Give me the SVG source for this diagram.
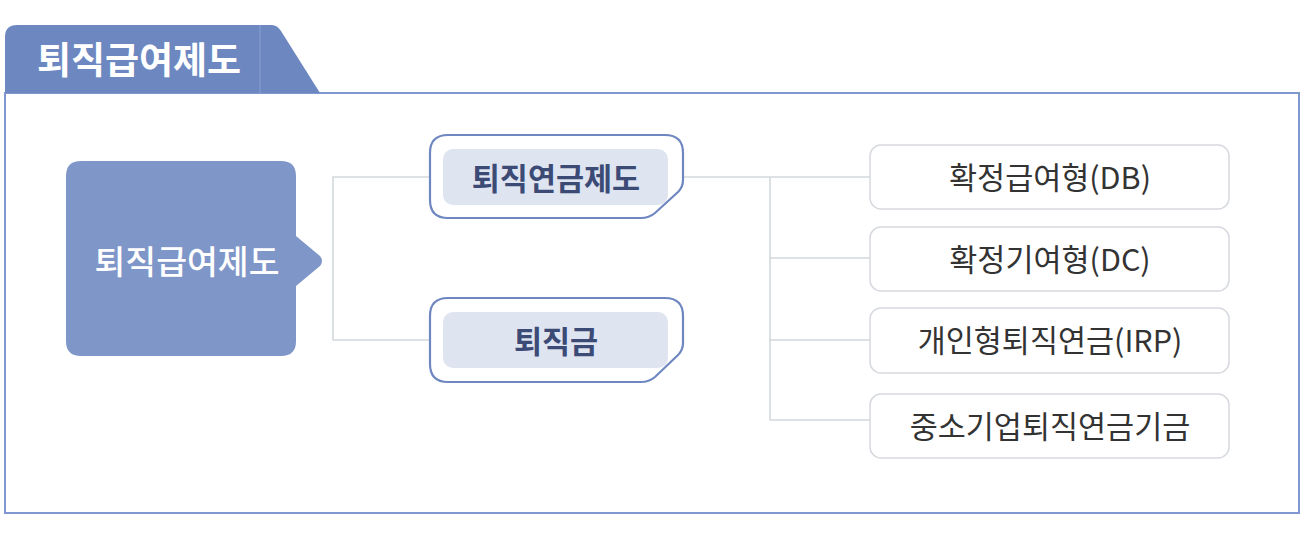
<svg xmlns="http://www.w3.org/2000/svg" width="1306" height="536" viewBox="0 0 1306 536">
<style>
.frame{fill:#fff;stroke:#8197cf;stroke-width:2}
.tab{fill:#6d87c1}
.main{fill:#7f96c8}
.mid{fill:#fff;stroke:#6f87c0;stroke-width:2.2}
.inner{fill:#dfe4f1}
.leaf{fill:#fff;stroke:#d6d9de;stroke-width:1.5}
.conn{fill:none;stroke:#d3d9dc;stroke-width:1.6}
text{font-family:"Noto Sans CJK KR","Noto Sans",sans-serif;text-anchor:middle;dominant-baseline:central}
.t-title{fill:#fff;font-size:37px;font-weight:bold}
.t-main{fill:#fff;font-size:33.5px;font-weight:500}
.t-mid{fill:#3c4a76;font-size:30.5px;font-weight:bold}
.t-leaf{fill:#333;font-size:30.5px}
</style>
<rect x="0" y="0" width="1306" height="536" fill="#fff"/>
<g id="frame">
<rect class="frame" x="5" y="93" width="1294" height="420"/>
<path class="tab" d="M5,93 V37 Q5,25 17,25 H272 Q277,25 281,31 L320,93 Z"/>
<line x1="260" y1="25" x2="260" y2="93" stroke="#8aa0d0" stroke-width="1"/>
<text class="t-title" x="139" y="58">퇴직급여제도</text>
</g>
<g id="connectors">
<polyline class="conn" points="430,177 333,177 333,340 430,340"/>
<line class="conn" x1="683" y1="177" x2="870" y2="177"/>
<polyline class="conn" points="770,177 770,420 870,420"/>
<line class="conn" x1="770" y1="258" x2="870" y2="258"/>
<line class="conn" x1="770" y1="340" x2="870" y2="340"/>
</g>
<g id="node-root">
<path class="main" d="M81,161 H281 Q296,161 296,176 V236 L320,256 Q324,261 320,266 L296,286 V341 Q296,356 281,356 H81 Q66,356 66,341 V176 Q66,161 81,161 Z"/>
<text class="t-main" x="187" y="259">퇴직급여제도</text>
</g>
<g id="node-pension">
<path class="mid" d="M448,135 H665 Q683,135 683,153 V180 Q683,187 678,192 L655,213 Q649,218 641,218 H448 Q430,218 430,200 V153 Q430,135 448,135 Z"/>
<rect class="inner" x="443" y="149" width="225" height="56" rx="10"/>
<text class="t-mid" x="556" y="177">퇴직연금제도</text>
</g>
<g id="node-severance">
<path class="mid" d="M448,298 H665 Q683,298 683,316 V343 Q683,350 678,355 L655,377 Q649,382 641,382 H448 Q430,382 430,364 V316 Q430,298 448,298 Z"/>
<rect class="inner" x="443" y="312" width="225" height="56" rx="10"/>
<text class="t-mid" x="556" y="340">퇴직금</text>
</g>
<g id="node-db">
<rect class="leaf" x="870" y="145" width="359" height="64" rx="11"/>
<text class="t-leaf" x="1050" y="176">확정급여형(DB)</text>
</g>
<g id="node-dc">
<rect class="leaf" x="870" y="227" width="359" height="64" rx="11"/>
<text class="t-leaf" x="1050" y="258">확정기여형(DC)</text>
</g>
<g id="node-irp">
<rect class="leaf" x="870" y="308" width="359" height="65" rx="11"/>
<text class="t-leaf" x="1050" y="339">개인형퇴직연금(IRP)</text>
</g>
<g id="node-fund">
<rect class="leaf" x="870" y="394" width="359" height="64" rx="11"/>
<text class="t-leaf" x="1050" y="425">중소기업퇴직연금기금</text>
</g>
</svg>
